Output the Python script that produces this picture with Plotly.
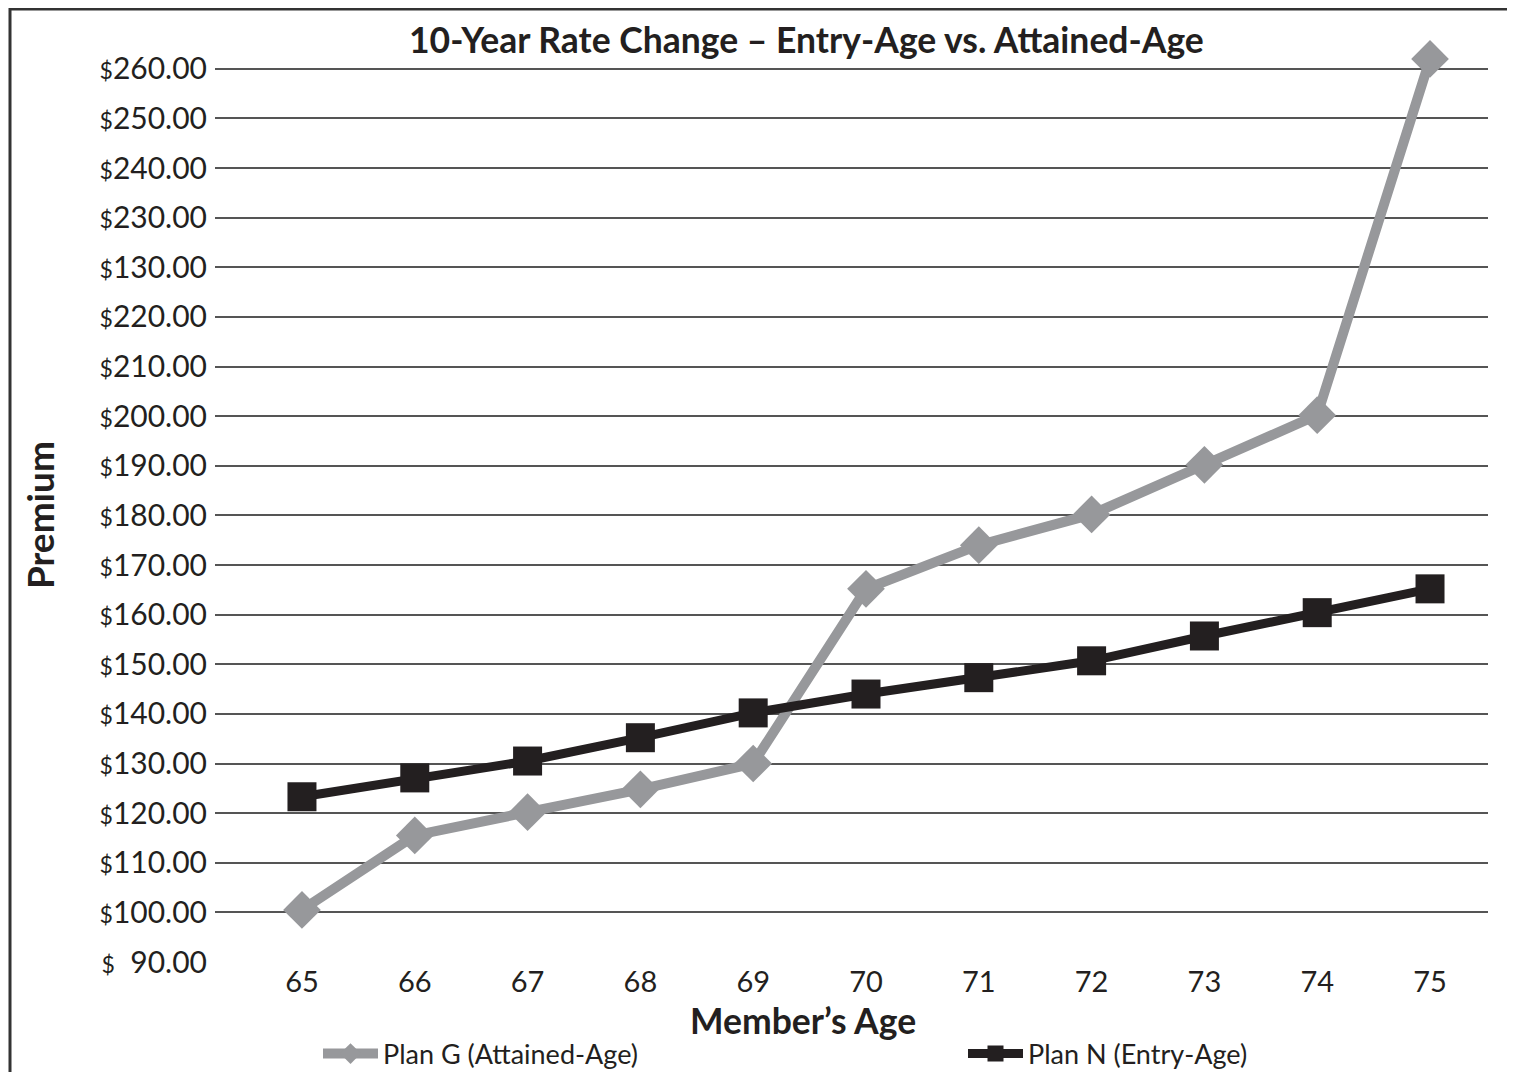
import plotly.graph_objects as go

# Data (y values are in axis units: each gridline = +10 above $90.00)
ages = [65, 66, 67, 68, 69, 70, 71, 72, 73, 74, 75]
plan_g = [100.5, 115.5, 120.2, 124.8, 130.0, 165.2, 174.0, 180.2, 190.2, 200.2, 272.0]
plan_n = [123.3, 127.1, 130.5, 135.2, 140.2, 144.0, 147.3, 150.7, 155.7, 160.4, 165.2]

tick_vals = [90, 100, 110, 120, 130, 140, 150, 160, 170, 180, 190, 200, 210, 220, 230, 240, 250, 260, 270]
tick_nums = [" 90.00", "100.00", "110.00", "120.00", "130.00", "140.00", "150.00", "160.00",
             "170.00", "180.00", "190.00", "200.00", "210.00", "220.00", "130.00", "230.00",
             "240.00", "250.00", "260.00"]
tick_text = ["<span style='font-size:23px'>$</span>" + (("&nbsp;&nbsp;" + t[1:]) if t.startswith(" ") else t)
             for t in tick_nums]

GRAY = "#97989b"
BLACK = "#231f20"
FONT = "Lato"

# page has an 8px body offset; positions below are given in screen pixels
OFF = 8
W, H = 1507, 1064
L, T = 215 - OFF, 69 - OFF - 25
PW = 1488 - 215
PH = 962 - 69 + 25
R = W - L - PW
B = H - T - PH


def px_x(x):
    return (x - OFF - L) / PW


def px_y(y):
    return 1 - (y - OFF - T) / PH


fig = go.Figure()
fig.add_trace(go.Scatter(
    x=ages, y=plan_g, mode="lines+markers", name="Plan G (Attained-Age)",
    line=dict(color=GRAY, width=10),
    marker=dict(symbol="diamond", size=29, color=GRAY),
    cliponaxis=False, legend="legend",
))
fig.add_trace(go.Scatter(
    x=ages, y=plan_n, mode="lines+markers", name="Plan N (Entry-Age)",
    line=dict(color=BLACK, width=9),
    marker=dict(symbol="square", size=29, color=BLACK),
    cliponaxis=False, legend="legend2",
))

leg_common = dict(
    orientation="h", xanchor="left",
    yref="container", y=1 - (1054 - OFF) / H, yanchor="middle",
    font=dict(size=27, color=BLACK, family=FONT),
    itemwidth=55, bgcolor="rgba(0,0,0,0)",
)

fig.update_layout(
    width=W, height=H,
    margin=dict(l=L, r=R, t=T, b=B),
    paper_bgcolor="white", plot_bgcolor="white",
    font=dict(family=FONT, color=BLACK, size=28),
    showlegend=True,
    legend=dict(x=px_x(318), **leg_common),
    legend2=dict(x=px_x(963), **leg_common),
    annotations=[
        dict(text="<b>10-Year Rate Change – Entry-Age vs. Attained-Age</b>",
             xref="paper", yref="paper", x=px_x(806), y=px_y(40),
             xanchor="center", yanchor="middle",
             showarrow=False, font=dict(size=35.5, color=BLACK, family=FONT)),
        dict(text="<b>Member’s Age</b>",
             xref="paper", yref="paper", x=px_x(803), y=px_y(1020),
             xanchor="center", yanchor="middle",
             showarrow=False, font=dict(size=35.5, color=BLACK, family=FONT)),
        dict(text="<b>Premium</b>", textangle=-90,
             xref="paper", yref="paper", x=px_x(40), y=px_y(515),
             xanchor="center", yanchor="middle",
             showarrow=False, font=dict(size=37, color=BLACK, family=FONT)),
    ],
    shapes=[
        dict(type="rect", xref="paper", yref="paper",
             x0=px_x(10), x1=px_x(1510), y0=px_y(1100), y1=px_y(9),
             line=dict(color="#333333", width=3), fillcolor="rgba(0,0,0,0)", layer="below"),
    ],
)

fig.update_xaxes(
    range=[64.229, 75.514], tickvals=ages, ticktext=[str(a) for a in ages],
    showgrid=False, zeroline=False, showline=False, ticks="",
    tickfont=dict(size=29, color=BLACK, family=FONT),
)
fig.update_yaxes(
    range=[90, 275], tickvals=tick_vals, ticktext=tick_text,
    showgrid=True, gridcolor="#555555", gridwidth=2, zeroline=False, showline=False,
    ticks="", ticklabelstandoff=7,
    tickfont=dict(size=30, color=BLACK, family=FONT),
)

fig.write_html("out.html")
